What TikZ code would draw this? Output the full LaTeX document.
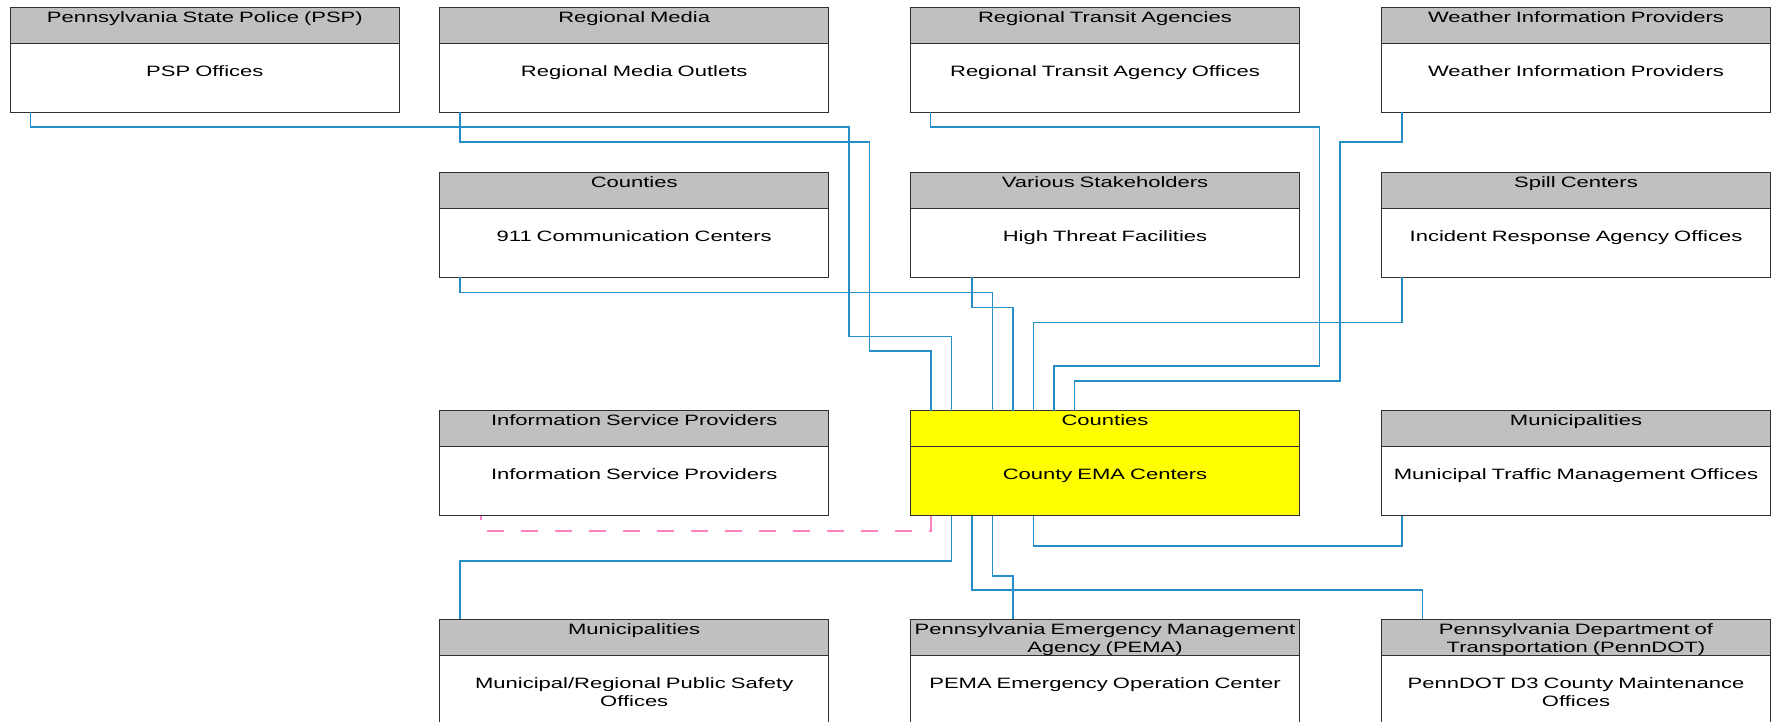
\documentclass[tikz,border=0pt]{standalone}
\usepackage{fontspec}
\usepackage{xcolor}
\usepackage{tikz}
\usetikzlibrary{positioning, calc}
\newfontfamily\diagfamily[FakeStretch=1.467]{Liberation Sans}
\definecolor{headgray}{HTML}{C0C0C0}
\definecolor{boxline}{HTML}{303030}
\definecolor{emayellow}{RGB}{255,255,0}
\definecolor{linkblue}{HTML}{248ECB}
\definecolor{linkpink}{HTML}{FF80C0}
\tikzset{
  head/.style={
    rectangle,
    anchor=north west,
    text width=194.5pt,
    align=center,
    inner sep=0pt,
    outer sep=0pt,
    text height=7.6pt,
    text depth=10.4pt,
    draw=boxline,
    line width=0.6pt,
    fill=headgray,
    font=\diagfamily\fontsize{7.5}{9}\selectfont
  },
  body/.style={
    head,
    text height=16.6pt,
    text depth=17.9pt,
    fill=white
  },
  link/.style={
    draw=linkblue,
    line width=0.8pt
  },
  dashlink/.style={
    draw=linkpink,
    line width=0.8pt,
    dash pattern=on 8.5pt off 8.5pt
  }
}

\begin{document}
\begin{tikzpicture}[x=0.5pt, y=-0.5pt]
\fill [white] (0,0) rectangle (1773,722);
\useasboundingbox (0,0) rectangle (1773,722);

% Nodes
\node (psp-top) [head] at (10.3,7.3) {Pennsylvania State Police (PSP)};
\node (psp) [body, below=0pt of psp-top] {PSP Offices};
\node (media-top) [head] at (439.7,7.3) {Regional Media};
\node (media) [body, below=0pt of media-top] {Regional Media Outlets};
\node (transit-top) [head] at (910.5,7.3) {Regional Transit Agencies};
\node (transit) [body, below=0pt of transit-top] {Regional Transit Agency Offices};
\node (weather-top) [head] at (1381.5,7.3) {Weather Information Providers};
\node (weather) [body, below=0pt of weather-top] {Weather Information Providers};

\node (psap-top) [head] at (439.7,172.3) {Counties};
\node (psap) [body, below=0pt of psap-top] {911 Communication Centers};
\node (threat-top) [head] at (910.5,172.3) {Various Stakeholders};
\node (threat) [body, below=0pt of threat-top] {High Threat Facilities};
\node (spill-top) [head] at (1381.5,172.3) {Spill Centers};
\node (spill) [body, below=0pt of spill-top] {Incident Response Agency Offices};

\node (isp-top) [head] at (439.7,410.7) {Information Service Providers};
\node (isp) [body, below=0pt of isp-top] {Information Service Providers};
\node (ema-top) [head, fill=emayellow] at (910.5,410.7) {Counties};
\node (ema) [body, below=0pt of ema-top, fill=emayellow] {County EMA Centers};
\node (mtm-top) [head] at (1381.5,410.7) {Municipalities};
\node (mtm) [body, below=0pt of mtm-top] {Municipal Traffic Management Offices};

\node (muni-top) [head] at (439.7,619.3) {Municipalities};
\node (muni) [body, below=0pt of muni-top] {Municipal/Regional Public Safety\\Offices};
\node (pema-top) [head] at (910.5,619.3) {Pennsylvania Emergency Management\\Agency (PEMA)};
\node (pema) [body, below=0pt of pema-top] {PEMA Emergency Operation Center};
\node (penndot-top) [head] at (1381.5,619.3) {Pennsylvania Department of\\Transportation (PennDOT)};
\node (penndot) [body, below=0pt of penndot-top] {PennDOT D3 County Maintenance\\Offices};

% Links into the EMA centers
\draw [link] ($(psp.south west)+(20,0)$) -- ++(0,15) -| (849,336.3) -| ($(ema-top.north west)+(41,0)$);
\draw [link] ($(media.south west)+(20,0)$) -- ++(0,30) -| (869.5,351) -| ($(ema-top.north west)+(20.5,0)$);
\draw [link] ($(transit.south west)+(20,0)$) -- ++(0,15) -| (1319.5,366) -| ($(ema-top.north west)+(143.5,0)$);
\draw [link] ($(weather.south west)+(20.5,0)$) -- ++(0,30) -| (1340,381) -| ($(ema-top.north west)+(164,0)$);
\draw [link] ($(psap.south west)+(20,0)$) -- ++(0,15) -| ($(ema-top.north west)+(82,0)$);
\draw [link] ($(threat.south west)+(61.2,0)$) -- ++(0,30) -| ($(ema-top.north west)+(102.5,0)$);
\draw [link] ($(spill.south west)+(20.5,0)$) -- ++(0,45) -| ($(ema-top.north west)+(123,0)$);

% Links out of the EMA centers
\draw [dashlink] ($(ema.south west)+(20.5,0)$) -- ++(0,15) -| ($(isp.south west)+(41,0)$);
\draw [link] ($(ema.south west)+(123,0)$) -- ++(0,30) -| ($(mtm.south west)+(20.5,0)$);
\draw [link] ($(ema.south west)+(41,0)$) -- ++(0,45) -| ($(muni-top.north west)+(20.5,0)$);
\draw [link] ($(ema.south west)+(82,0)$) -- ++(0,60) -| ($(pema-top.north west)+(102.5,0)$);
\draw [link] ($(ema.south west)+(61.5,0)$) -- ++(0,74.5) -| ($(penndot-top.north west)+(41,0)$);
\end{tikzpicture}
\end{document}
